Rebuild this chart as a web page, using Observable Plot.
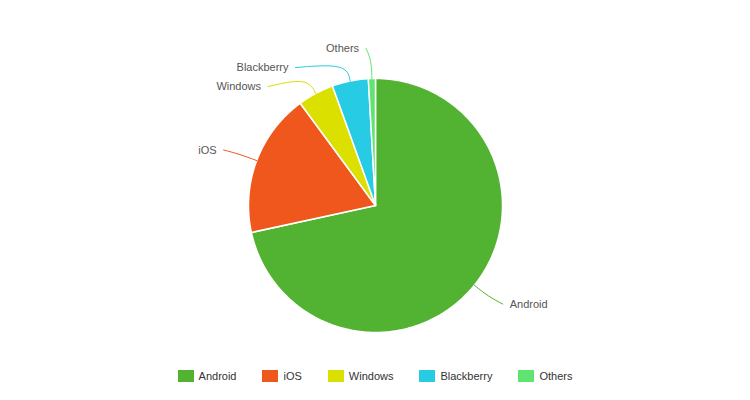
<!DOCTYPE html>
<html><head><meta charset="utf-8">
<script src="https://cdn.jsdelivr.net/npm/d3@7"></script>
<script src="https://cdn.jsdelivr.net/npm/@observablehq/plot@0.6"></script>
<style>
body{margin:0;background:#fff;font-family:"Liberation Sans",Arial,sans-serif;}
#legend{display:flex;justify-content:center;gap:26px;height:31px;align-items:center;font-size:11px;color:#333;width:750px}
.item{display:flex;align-items:center}
.sw{width:16px;height:12px;margin-right:5px}
</style></head><body><div id="chart"></div><div id="legend"></div>
<script>
// Data
const categories = ["Android", "iOS", "Windows", "Blackberry", "Others"];
const shares = [71.6, 18.3, 4.6, 4.6, 0.9];
const colors = ["#52b332", "#ef571d", "#dbe000", "#27cbe4", "#5ee46f"];

// Layout
const W = 750, H = 360, CX = 375, CY = 205, R = 127, ER = 145, LR = 157, XPAD = 5, GAP = 19;

const data = categories.map((name, i) => ({name, value: shares[i]}));
const arcs = d3.pie().sort(null).value(d => d.value)(data);

// slice outlines from pie angles
const polyPts = [];
arcs.forEach(a => {
  const name = a.data.name;
  polyPts.push({name, x: 0, y: 0});
  const n = Math.max(2, Math.ceil((a.endAngle - a.startAngle) / (Math.PI / 360)));
  for (let k = 0; k <= n; k++) {
    const t = a.startAngle + (a.endAngle - a.startAngle) * k / n;
    polyPts.push({name, x: R * Math.sin(t), y: -R * Math.cos(t)});
  }
});

// label layout
const labels = arcs.map(a => {
  const m = (a.startAngle + a.endAngle) / 2;
  return {name: a.data.name, m, side: Math.sin(m) >= 0 ? 1 : -1, y: -LR * Math.cos(m)};
});
for (const side of [1, -1]) {
  const L = labels.filter(d => d.side === side).sort((a, b) => a.y - b.y);
  for (let i = 1; i < L.length; i++) if (L[i].y < L[i - 1].y + GAP) L[i].y = L[i - 1].y + GAP;
  L.forEach(d => { d.x = side * (Math.sqrt(Math.max(0, LR * LR - d.y * d.y)) + XPAD); });
}
const connectors = [];
labels.forEach(d => {
  connectors.push({name: d.name, x: R * Math.sin(d.m), y: -R * Math.cos(d.m)});
  connectors.push({name: d.name, x: ER * Math.sin(d.m), y: -ER * Math.cos(d.m)});
  connectors.push({name: d.name, x: d.x, y: d.y});
});

const chart = Plot.plot({
  width: W, height: H,
  margin: 0,
  style: {fontFamily: "'Liberation Sans', Arial, sans-serif", background: "white"},
  x: {domain: [-CX, W - CX], range: [0, W], axis: null},
  y: {domain: [-CY, H - CY], range: [0, H], axis: null},
  color: {domain: categories, range: colors},
  marks: [
    Plot.line(polyPts, {x: "x", y: "y", z: "name", fill: "name", stroke: "white", strokeWidth: 1.5, curve: "linear-closed"}),
    Plot.line(connectors, {x: "x", y: "y", z: "name", stroke: "name", strokeWidth: 1, curve: "basis"}),
    Plot.text(labels.filter(d => d.side > 0), {x: d => d.x + 7, y: "y", text: "name", textAnchor: "start", fill: "#555", fontSize: 11}),
    Plot.text(labels.filter(d => d.side < 0), {x: d => d.x - 7, y: "y", text: "name", textAnchor: "end", fill: "#555", fontSize: 11})
  ]
});
document.getElementById("chart").appendChild(chart);

const legend = document.getElementById("legend");
categories.forEach((c, i) => {
  const it = document.createElement("div"); it.className = "item";
  const sw = document.createElement("div"); sw.className = "sw"; sw.style.background = colors[i];
  const tx = document.createElement("span"); tx.textContent = c;
  it.appendChild(sw); it.appendChild(tx); legend.appendChild(it);
});
</script></body></html>
